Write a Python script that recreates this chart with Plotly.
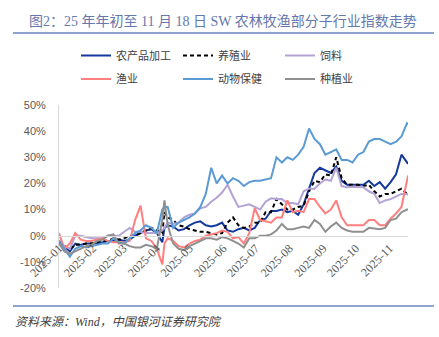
import pandas as pd
import plotly.graph_objects as go

# ---- data ----
START = "2025-01-01"
DAYS = [0, 5, 10, 15, 20, 25, 30, 35, 40, 45, 50, 55, 60, 65, 70, 75, 80, 85, 90, 95,
        97,
        100, 105, 110, 115, 120, 125, 130, 135, 140, 145, 150, 155, 160, 165, 170, 175,
        180, 185, 190, 195, 200, 205, 210, 215, 220, 225, 230, 235, 240, 245, 250, 255,
        260, 265, 270, 275, 280, 285, 290, 295, 300, 305, 310, 315, 320,
        321]

agri_processing = [-3, -4, -6, -3, -3.5, -3, -3, -3, -2.5, -2, -2, -1.5, -2, -1.5, 0, 1, 2, 2.5, 1, -2.5,
                   3,
                   4, 3.5, 2, 2.5, 4, 5, 5.5, 4, 3.5, 4, 5, 2, 1.5, 2.5, 3, 2, 3, 6, 6.5, 9.5,
                   9.5, 10, 9, 9.5, 8, 12, 18, 24, 26, 25, 24, 26.5, 21, 19.5, 19.5, 19.5, 19.5, 21, 19, 20.5,
                   18, 20.5, 23.5, 31, 28,
                   27.5]

breeding = [-2, -4, -5, -3.5, -3.5, -3, -3, -2.5, -2, -2, -1, -1.5, -1, 0, 0, 1, 2, 3, 2, 1,
            9,
            7, 6, 4, 3.5, 2.5, 2, 1.5, 1.5, 1, 0.5, 1, 5, 7, 4, 3, 3.5, 5, 5, 9, 9,
            14, 12, 10, 10, 11, 11.5, 17, 21, 20.5, 23.5, 23, 30, 22, 19.5, 19.5, 19.5, 19, 19.5, 17, 15,
            16, 16, 17, 18, 16,
            16]

feed = [-2, -4, -5, 0, 0, -0.5, -1, -1, -1, 0, 0, 0, 1.5, 3, 1.5, 1.5, 1, 1, 1, 2,
        3,
        5, 4.5, 5, 7, 8, 8.5, 10.5, 11, 13, 14.5, 16.5, 19.5, 15, 11, 11.5, 12, 11, 10, 13, 14.3,
        14, 14, 12.5, 12.5, 12, 17, 18, 18, 20, 21.5, 21, 26, 19, 18.5, 18.7, 18.7, 18.5, 17, 16, 12.5,
        13.5, 14, 15, 16, 16,
        15.5]

fishery = [1, -5, -3, 1, -1.5, -2, -2, -1.5, -1, -2, -2.5, -2.5, -2.5, -2, 6, 11.5, -1, -2, -5, -11,
           -3,
           -1, -2, -4, -4.5, -3, -2, -1.5, 0, 0.5, 1, 2, 1.5, -1, -0.5, -3, 1, 10.5, 6, 5.5, 5,
           7, 7, 13.5, 9, 9.5, 9, 14, 14, 11, 8.5, 10, 13.5, 7, 4, 4, 4, 4, 6, 6, 4,
           4, 6.5, 8.5, 11, 21,
           23]

animal_health = [-2, -5, -8, -5, -4, -4.5, -4, -3.5, -3, -3, -1, -2.5, -3, -1, 1, 2, 4, 3, 1, 10,
                 11,
                 11, 3, 5, 6, 7, 8.5, 11, 16, 26, 20, 23, 20, 22, 21, 19, 20.5, 21, 21, 21.5, 22,
                 30, 28, 30, 29, 31, 34, 41, 37, 35, 31, 32, 33, 29, 29, 28, 31, 32, 36, 37, 37,
                 36, 35, 36, 38, 43,
                 42.5]

planting = [-3, -6, -7, -6, -5, -4, -3.5, -2, -1.5, 0, 0.5, -3, -3, -4, -4.5, -4.5, -3.5, -4, -5, 6,
            13.5,
            4, -3, -5, -5.5, -4, -3, -2, -1, -1, -1.5, -0.5, -1, -2, -3, -4.5, -1, -1, 0, 0, 0.5,
            2, 4.5, 2.5, 2.5, 3, 3.5, 3, 6, 4.5, 1.5, 3.5, 5, 3, 2, 1.5, 1.5, 1.5, 3, 2.7, 2.5,
            3, 6, 6.5, 9, 10,
            10]

SERIES_NAMES = ["农产品加工", "养殖业", "饲料", "渔业", "动物保健", "种植业"]
SERIES_VALUES = [agri_processing, breeding, feed, fishery, animal_health, planting]
COLORS = ["#15399a", "#000000", "#b3a2d4", "#ff7f7f", "#5b9bd5", "#8f8f8f"]
DASHES = ["solid", "4px,3px", "solid", "solid", "solid", "solid"]
LEGEND_ROW = ["legend", "legend", "legend", "legend2", "legend2", "legend2"]

Y_TICKS = [-20, -10, 0, 10, 20, 30, 40, 50]
Y_TICK_TEXT = ["-20%", "-10%", "0%", "10%", "20%", "30%", "40%", "50%"]
TITLE = "图2：25 年年初至 11 月 18 日 SW 农林牧渔部分子行业指数走势"
SOURCE = "资料来源：Wind，中国银河证券研究院"

dates = pd.Timestamp(START) + pd.to_timedelta(DAYS, unit="D")

# ---- layout geometry (pixels) ----
W, H = 439, 337
L, R, T, B = 59, 31, 105, 49
PW = W - L - R
PH = H - T - B


def px(xp):
    return (xp - L) / PW


def py(yp):
    return (H - B - yp) / PH


fig = go.Figure()
for name, vals, col, dash, lg in zip(SERIES_NAMES, SERIES_VALUES, COLORS, DASHES, LEGEND_ROW):
    fig.add_trace(go.Scatter(
        x=dates, y=vals, mode="lines", name=name,
        line=dict(color=col, width=2, dash=dash),
        legend=lg,
    ))

legend_common = dict(
    orientation="h", xanchor="left", yanchor="middle",
    entrywidth=57, entrywidthmode="pixels",
    bgcolor="rgba(0,0,0,0)", borderwidth=0,
    font=dict(family="Noto Sans CJK SC", size=11, color="#404040"),
    itemclick=False, itemdoubleclick=False,
)

fig.update_layout(
    width=W, height=H,
    margin=dict(l=L, r=R, t=T, b=B, pad=0),
    paper_bgcolor="white", plot_bgcolor="white",
    showlegend=True,
    legend=dict(x=px(76), y=py(55.5), **legend_common),
    legend2=dict(x=px(76), y=py(79), **legend_common),
    xaxis=dict(
        type="date", range=["2025-01-01", "2025-11-18"],
        anchor="free", position=20 / 70,
        showline=True, linecolor="#d9d9d9", linewidth=1,
        showgrid=False, zeroline=False,
        tick0="2025-01-01", dtick="M1", tickformat="%Y-%m",
        tickangle=-45, ticks="",
        tickfont=dict(family="Liberation Serif", size=12, color="#595959"),
    ),
    yaxis=dict(
        range=[-20, 50], tickmode="array", tickvals=Y_TICKS, ticktext=Y_TICK_TEXT,
        showline=True, linecolor="#d9d9d9", linewidth=1,
        showgrid=False, zeroline=False, ticks="",
        ticklabelstandoff=10,
        tickfont=dict(family="Liberation Sans", size=11, color="#595959"),
    ),
    shapes=[
        dict(type="line", xref="paper", yref="paper", x0=px(13), x1=px(434), y0=py(33), y1=py(33),
             line=dict(color="#8fa3d1", width=2)),
        dict(type="line", xref="paper", yref="paper", x0=px(13), x1=px(434), y0=py(306), y1=py(306),
             line=dict(color="#8fa3d1", width=2)),
    ],
    annotations=[
        dict(text=TITLE, xref="paper", yref="paper", x=px(27), y=py(21), xanchor="left", yanchor="middle",
             showarrow=False, font=dict(family="Liberation Serif, Noto Sans CJK SC", size=14, color="#6577ad")),
        dict(text="<i>" + SOURCE + "</i>", xref="paper", yref="paper", x=px(13), y=py(322), xanchor="left",
             yanchor="middle", showarrow=False,
             font=dict(family="Liberation Serif, Noto Sans CJK SC", size=12, color="#404040")),
    ],
)

fig.write_html("out.html")
